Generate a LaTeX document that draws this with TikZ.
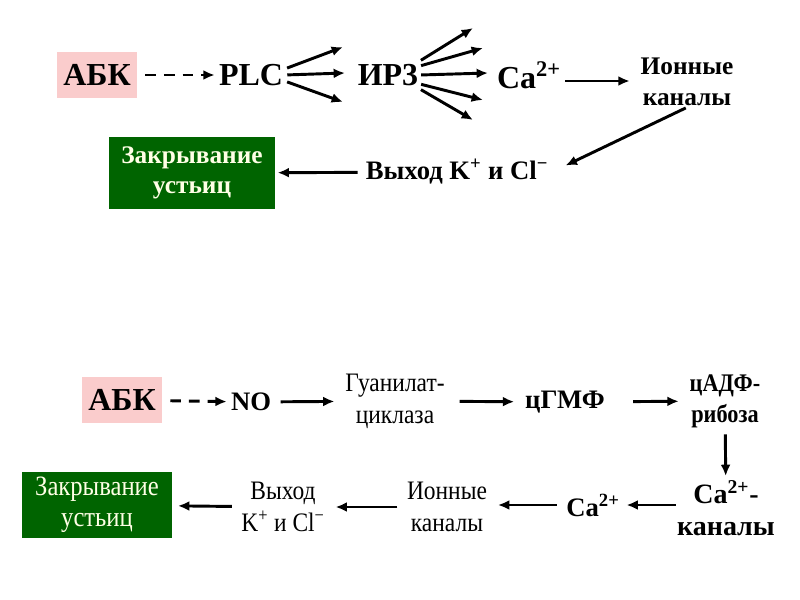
\documentclass[tikz,border=0pt]{standalone}
\usepackage{fontspec}
\setmainfont{Liberation Serif}
\newfontfamily\narrowfont[FakeStretch=0.88]{Liberation Serif}
\usetikzlibrary{arrows.meta}
\definecolor{abkpink}{RGB}{250,204,204}
\definecolor{leafgreen}{RGB}{0,100,0}
\definecolor{cream}{RGB}{255,255,230}

\begin{document}
\begin{tikzpicture}[x=0.75pt, y=-0.75pt, arr/.style={-{Latex[length=3mm, width=2.6mm]}, line width=2.2pt, shorten <=6pt, shorten >=7pt}, dasharr/.style={arr, dash pattern=on 8pt off 6pt}, big/.style={font=\fontsize{24}{28}\selectfont\bfseries, inner sep=1pt}, mid/.style={font=\fontsize{20}{24}\selectfont\bfseries, align=center, inner sep=1pt}, thin/.style={font=\narrowfont\fontsize{20}{24}\selectfont, align=center, inner sep=1pt}, abk/.style={big, fill=abkpink, minimum width=60pt, minimum height=34pt}, closing/.style={fill=leafgreen, text=cream, align=center, inner sep=1pt}]

\useasboundingbox (0,0) rectangle (800,600);
% upper scheme
\node[abk] (abk1) at (97,75) {АБК}; \node[big] (plc) at (251,75) {PLC}; \node[big] (ip3) at (388,75) {ИР3}; \node[big] (ca1) at (529,75) {Ca\textsuperscript{2+}};
\node[mid, font=\fontsize{19}{23}\selectfont\bfseries] (ion1) at (687,82) {Ионные\\каналы}; \node[mid] (out1) at (457,172) {Выход K\textsuperscript{+} и Cl\textsuperscript{−}};
\node[closing, font=\fontsize{19}{23}\selectfont\bfseries, minimum width=124pt, minimum height=54pt] (close1) at (192,173) {Закрывание\\устьиц};
\draw[dasharr, shorten >=2pt] (abk1) -- (plc); \draw[arr, shorten <=2pt] (ca1.east |- 0,81) -- (ion1.west |- 0,81); \draw[arr, shorten <=1pt, shorten >=2pt] (ion1.south) -- ([xshift=10pt, yshift=4pt]out1.east); \draw[arr, shorten <=5pt, shorten >=2pt] (out1) -- (close1);
\foreach \sy/\ex/\ey in {6/343/47, 0/345/73, -6/343/102} \draw[arr, shorten <=2pt, shorten >=0pt] ([yshift=\sy*0.75pt]plc.east) -- (\ex,\ey);
\foreach \sy/\ex/\ey in {14/473/28, 9/483/48, 0/488/73, -9/483/100, -14/473/120} \draw[arr, shorten <=1pt, shorten >=0pt] ([yshift=\sy*0.75pt]ip3.east) -- (\ex,\ey);

% lower scheme
\node[abk] (abk2) at (122,400) {АБК}; \node[mid] (no) at (251,402) {NO}; \node[thin] (gc) at (395,401) {Гуанилат-\\циклаза}; \node[mid] (cgmp) at (565,402) {цГМФ}; \node[thin, font=\narrowfont\bfseries\fontsize{19}{23}\selectfont] (cadpr) at (725,401) {цАДФ-\\рибоза};
\node[mid, font=\fontsize{21}{24}\selectfont\bfseries] (cachan) at (726,508) {Ca\textsuperscript{2+}-\\каналы}; \node[mid] (ca2) at (593,505) {Ca\textsuperscript{2+}}; \node[thin] (ion2) at (447,507) {Ионные\\каналы}; \node[thin] (out2) at (283,507) {Выход\\K\textsuperscript{+} и Cl\textsuperscript{−}};
\node[closing, font=\narrowfont\fontsize{21}{23}\selectfont, minimum width=113pt, minimum height=50pt] (close2) at (97,505) {Закрывание\\устьиц};
\draw[dasharr, shorten >=2pt] (abk2) -- (no); \draw[arr] (no) -- (gc); \draw[arr, shorten <=10pt] (gc) -- (cgmp); \draw[arr, shorten <=20pt] (cgmp) -- (cadpr); \draw[arr, shorten <=4pt, shorten >=2pt] (cadpr) -- (cachan);
\draw[arr, shorten <=0pt, shorten >=4pt] (cachan.west |- ca2) -- (ca2); \draw[arr] (ca2) -- (ion2.east |- ca2); \draw[arr] (ion2) -- (out2); \draw[arr, shorten >=4pt] (out2) -- (close2);
\end{tikzpicture}
\end{document}
